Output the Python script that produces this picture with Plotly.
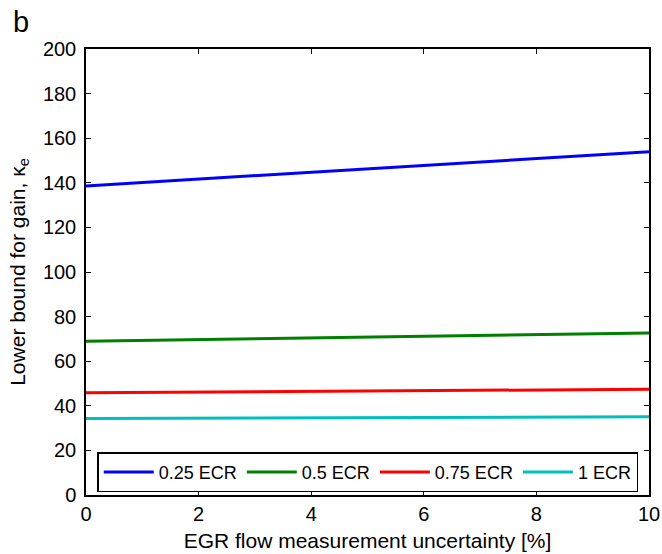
import plotly.graph_objects as go

x_vals = [0, 2, 4, 6, 8, 10]
ecr_025 = [138.6, 141.6, 144.6, 147.7, 150.8, 153.9]
ecr_05 = [69.0, 69.7, 70.4, 71.1, 71.8, 72.6]
ecr_075 = [45.9, 46.2, 46.5, 46.8, 47.1, 47.4]
ecr_1 = [34.3, 34.45, 34.6, 34.75, 34.9, 35.1]

series = [
    ("0.25 ECR", ecr_025, "#0000FF"),
    ("0.5 ECR", ecr_05, "#008000"),
    ("0.75 ECR", ecr_075, "#FF0000"),
    ("1 ECR", ecr_1, "#00BFBF"),
]

fig = go.Figure()
for name, vals, col in series:
    fig.add_trace(go.Scatter(x=x_vals, y=vals, mode="lines", name=name,
                             line=dict(color=col, width=3)))

font_family = "Liberation Sans, Arial, sans-serif"
axis_common = dict(showline=True, linecolor="black", linewidth=1.5, mirror="ticks",
                   ticks="inside", ticklen=5, tickcolor="black", tickwidth=1,
                   showgrid=False, zeroline=False, automargin=False,
                   tickfont=dict(family=font_family, size=20, color="black"))

ML, MR, MT, MB = 86, 13, 49, 59
fig.update_layout(
    width=662, height=554,
    margin=dict(l=ML, r=MR, t=MT, b=MB, autoexpand=False),
    plot_bgcolor="white", paper_bgcolor="white",
    font=dict(family=font_family, color="black"),
    xaxis=dict(range=[0, 10], tickvals=[0, 2, 4, 6, 8, 10],
               title=dict(text="EGR flow measurement uncertainty [%]",
                          font=dict(family=font_family, size=21), standoff=10),
               **axis_common),
    yaxis=dict(range=[0, 200], tickvals=list(range(0, 201, 20)),
               ticklabelstandoff=4,
               title=dict(text="Lower bound for gain, κ<sub>e</sub>",
                          font=dict(family=font_family, size=21), standoff=12),
               **axis_common),
    legend=dict(orientation="h", x=0.02, y=0.006, xanchor="left", yanchor="bottom",
                bordercolor="black", borderwidth=1.5, bgcolor="white",
                font=dict(family=font_family, size=18), tracegroupgap=0,
                itemwidth=50),
    showlegend=True,
)
plot_w = 662 - ML - MR
plot_h = 554 - MT - MB
fig.add_annotation(text="b", x=(11 - ML) / plot_w, y=(554 - MB - 4) / plot_h,
                   xref="paper", yref="paper", showarrow=False,
                   font=dict(family=font_family, size=29),
                   xanchor="left", yanchor="top")
fig.write_html("out.html")
